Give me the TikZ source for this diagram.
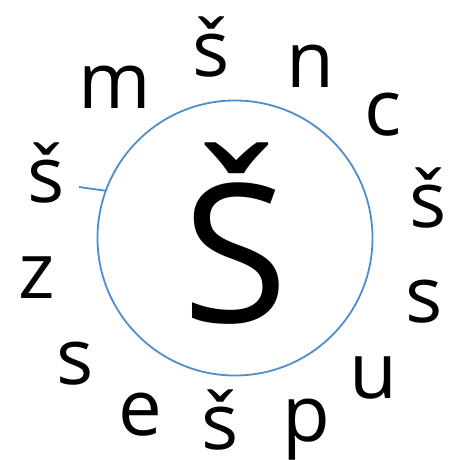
\documentclass[tikz,border=0pt]{standalone}
\usepackage{fontspec}
\setmainfont{Open Sans}
\definecolor{ringblue}{HTML}{4F8DCB}
\begin{document}
\begin{tikzpicture}[x=1pt,y=-1pt,
  letter/.style={anchor=base,inner sep=0pt,font=\fontsize{78}{78}\selectfont},
  ring/.style={circle,draw=ringblue,line width=1.8pt,minimum size=275pt,inner sep=0pt},
  tick/.style={draw=ringblue,line width=1.8pt}]
\useasboundingbox (0,0) rectangle (450,460);
\node[ring] (c) at (235,238) {};
\node[anchor=base,inner sep=0pt,font=\fontsize{193}{193}\selectfont] (big) at (235,322) {Š};
\node[letter] (l1) at (115,108) {m};
\node[letter] (l2) at (211,76) {š};
\node[letter] (l3) at (310,87) {n};
\node[letter] (l4) at (383,135) {c};
\node[letter] (l5) at (428,227) {š};
\node[letter] (l6) at (424,322) {s};
\node[letter] (l7) at (373,398) {u};
\node[letter] (l8) at (306,441) {p};
\node[letter] (l9) at (220,449) {š};
\node[letter] (l10) at (140,435) {e};
\node[letter] (l11) at (75,384) {s};
\node[letter] (l12) at (37,298) {z};
\node[letter] (l13) at (46,202) {š};
\coordinate (t) at (79,187);
\draw[tick] (t) -- (c.160.8);
\end{tikzpicture}
\end{document}
